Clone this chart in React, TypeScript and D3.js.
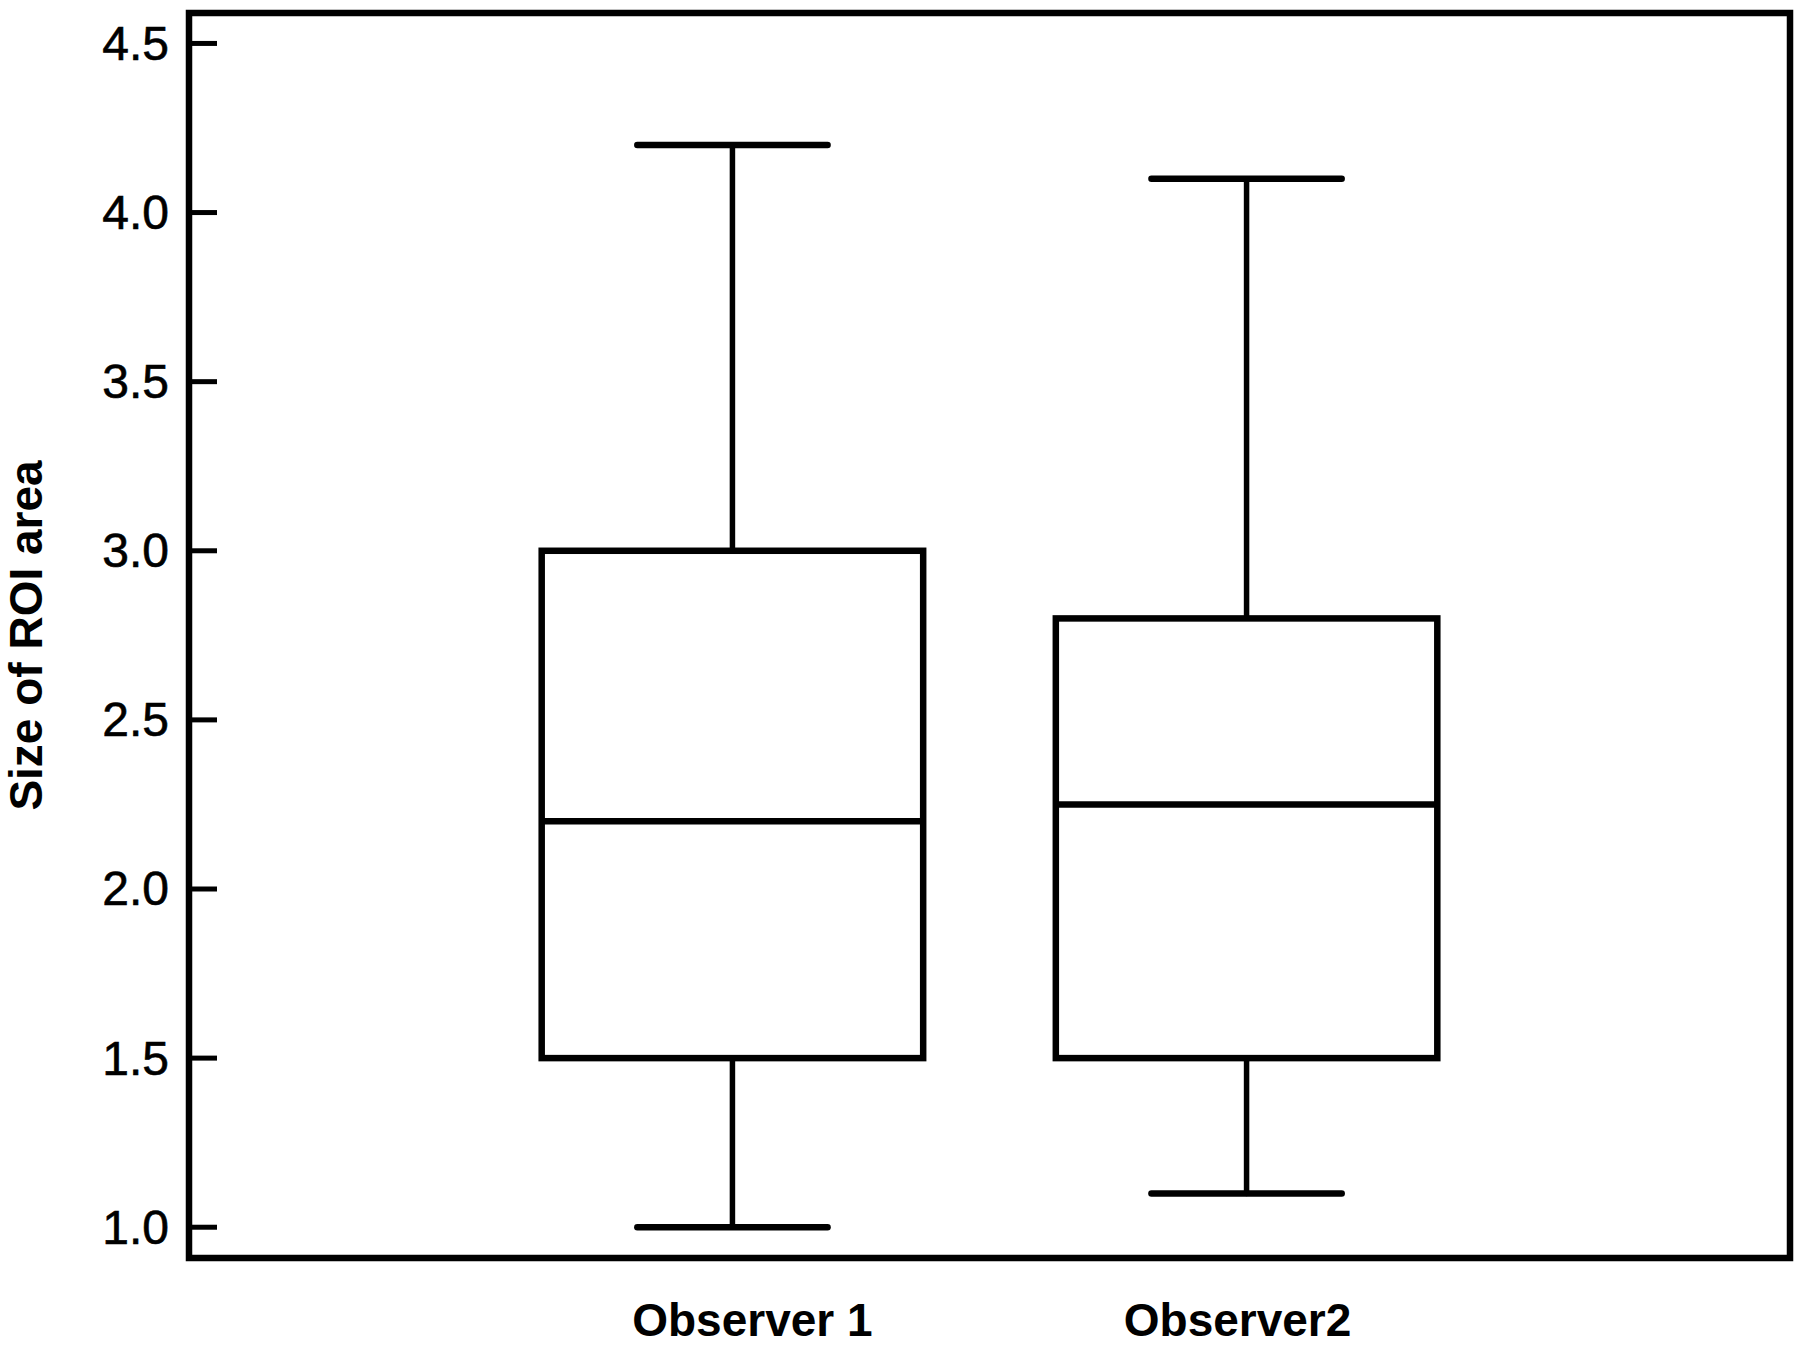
import React from 'react';
import * as d3 from 'd3';

// box plot values
const categories = ['Observer 1', 'Observer2'];
const whiskerLow = [1.0, 1.1];
const q1 = [1.5, 1.5];
const medians = [2.2, 2.25];
const q3 = [3.0, 2.8];
const whiskerHigh = [4.2, 4.1];
const yTicks = [1.0, 1.5, 2.0, 2.5, 3.0, 3.5, 4.0, 4.5];
const yTitle = 'Size of ROI area';

const width = 1800;
const height = 1347;
const frame = { left: 189, right: 1790, top: 13, bottom: 1258 };
// small horizontal nudges of the category labels, as in the original
const labelDx = [20, -9];

const App: React.FC = () => {
    const x = d3.scalePoint<string>()
        .domain(categories)
        .range([frame.left, frame.right])
        .padding(1.057);

    const y = d3.scaleLinear()
        .domain([0.909, 4.59])
        .range([frame.bottom, frame.top]);

    const boxWidth = x.step() * 0.742;
    const capWidth = x.step() * 0.37;
    const fmt = d3.format('.1f');
    const font = '"Liberation Sans", Arial, sans-serif';

    return (
        <svg width={width} height={height} style={{ position: 'absolute', left: 0, top: 0, background: '#fff' }}>
            {/* frame */}
            <rect
                x={frame.left}
                y={frame.top}
                width={frame.right - frame.left}
                height={frame.bottom - frame.top}
                fill="none"
                stroke="#000"
                strokeWidth={6.5}
            />

            {/* y ticks + labels */}
            {yTicks.map((t) => (
                <g key={t}>
                    <line x1={frame.left} x2={frame.left + 28} y1={y(t)} y2={y(t)} stroke="#000" strokeWidth={5} />
                    <text
                        x={frame.left - 20}
                        y={y(t)}
                        textAnchor="end"
                        dominantBaseline="central"
                        fontFamily={font}
                        fontSize={48}
                        fill="#000"
                        stroke="#000"
                        strokeWidth={0.6}
                    >
                        {fmt(t)}
                    </text>
                </g>
            ))}

            <text
                transform={`translate(42,${(frame.top + frame.bottom) / 2}) rotate(-90)`}
                textAnchor="middle"
                fontFamily={font}
                fontWeight="bold"
                fontSize={46}
                fill="#000"
            >
                {yTitle}
            </text>

            {/* boxes */}
            {categories.map((c, i) => {
                const cx = x(c) as number;
                return (
                    <g key={c} stroke="#000" strokeWidth={6.5} fill="none" strokeLinecap="round">
                        <line x1={cx} x2={cx} y1={y(whiskerHigh[i])} y2={y(q3[i])} strokeWidth={5.5} />
                        <line x1={cx} x2={cx} y1={y(q1[i])} y2={y(whiskerLow[i])} strokeWidth={5.5} />
                        <line x1={cx - capWidth / 2} x2={cx + capWidth / 2} y1={y(whiskerHigh[i])} y2={y(whiskerHigh[i])} strokeWidth={6.5} />
                        <line x1={cx - capWidth / 2} x2={cx + capWidth / 2} y1={y(whiskerLow[i])} y2={y(whiskerLow[i])} strokeWidth={6.5} />
                        <rect
                            x={cx - boxWidth / 2}
                            y={y(q3[i])}
                            width={boxWidth}
                            height={y(q1[i]) - y(q3[i])}
                            fill="#fff"
                            strokeLinecap="butt"
                        />
                        <line x1={cx - boxWidth / 2} x2={cx + boxWidth / 2} y1={y(medians[i])} y2={y(medians[i])} strokeLinecap="butt" />
                    </g>
                );
            })}

            {/* x labels */}
            {categories.map((c, i) => (
                <text
                    key={c}
                    x={(x(c) as number) + labelDx[i]}
                    y={1336}
                    textAnchor="middle"
                    fontFamily={font}
                    fontWeight="bold"
                    fontSize={46}
                    fill="#000"
                >
                    {c}
                </text>
            ))}
        </svg>
    );
};

export default App;
